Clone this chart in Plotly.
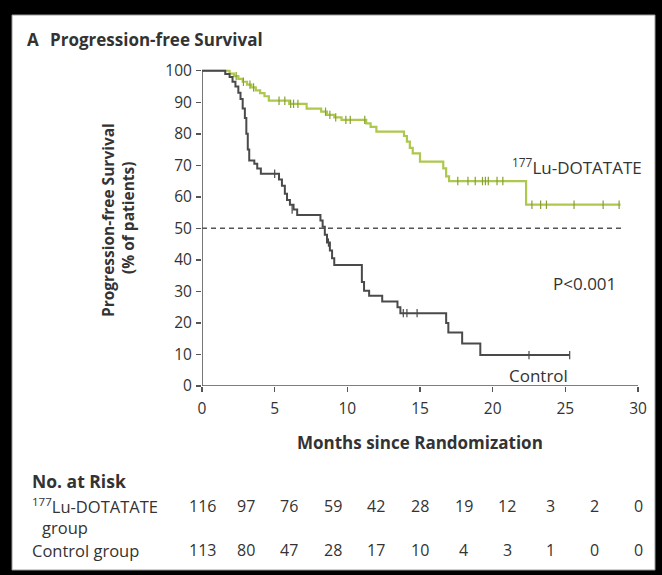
import plotly.graph_objects as go

W, H = 662, 575
L, R, T, B = 202, 24, 66, 189
PW = W - L - R
PH = H - T - B


def px(xp):
    return (xp - L) / PW


def py(yp):
    return (H - B - yp) / PH


# ---------------- data ----------------
ctrl_t = [0, 1.6, 1.9, 2.1, 2.3, 2.5, 2.65, 2.8, 2.95, 3.05, 3.15, 3.25, 3.6, 3.8, 4.05,
          5.3, 5.5, 5.7, 5.85, 6.05, 6.3, 6.55, 8.15, 8.3, 8.45, 8.6, 8.8, 8.95, 9.1,
          11.0, 11.15, 11.5, 12.4, 13.45, 13.65, 16.8, 16.95, 17.9, 19.15, 25.3]
ctrl_s = [100, 99, 98, 96.5, 95, 93, 91, 88, 85, 80, 75, 71.5, 70.5, 69, 67.3,
          65.5, 63.5, 61, 59, 57.5, 56, 54.2, 52.5, 50.5, 48, 45.5, 43, 40.5, 38.4,
          33, 30.2, 28.6, 26.8, 25, 23.1, 20, 17.0, 13.5, 9.8, 9.8]

lu_t = [0, 1.9, 2.2, 2.5, 2.8, 3.1, 3.4, 3.7, 4.0, 4.3, 4.6, 6.0, 7.2, 8.2, 8.6, 9.1, 9.6,
        11.3, 11.6, 12.0, 13.9, 14.1, 14.3, 14.5, 15.0, 16.6, 16.8, 17.0, 22.3, 28.8]
lu_s = [100, 99.1, 98.3, 97.4, 96.5, 95.6, 94.7, 93.8, 92.9, 91.9, 90.5, 89.5, 88.0, 87.0,
        86.0, 85.2, 84.4, 83.3, 82.2, 80.7, 79.3, 77.5, 75.5, 73.8, 71.2, 69.0, 66.5, 65.0,
        57.5, 57.5]

ctrl_cens_t = [5.0, 6.2, 8.7, 13.85, 14.1, 14.8, 22.5, 25.3]
ctrl_cens_s = [67.3, 56, 45.5, 23.1, 23.1, 23.1, 9.8, 9.8]

lu_cens_t = [2.35, 2.85, 3.3, 3.55, 5.3, 5.7, 6.1, 6.3, 6.6, 8.5, 8.8, 9.2, 9.9, 10.2, 11.2,
             17.6, 18.3, 18.8, 19.3, 19.5, 19.7, 20.3, 20.7, 22.7, 23.3, 23.7, 25.6, 27.6, 28.7]
lu_cens_s = [98.3, 96.5, 95.6, 94.7, 90.5, 90.5, 89.5, 89.5, 89.5, 87.0, 86.0, 85.2, 84.4, 84.4, 84.4,
             65, 65, 65, 65, 65, 65, 65, 65, 57.5, 57.5, 57.5, 57.5, 57.5, 57.5]

x_ticks = [0, 5, 10, 15, 20, 25, 30]
y_ticks = [0, 10, 20, 30, 40, 50, 60, 70, 80, 90, 100]

risk_times = [0, 3, 6, 9, 12, 15, 18, 21, 24, 27, 30]
risk_lu = [116, 97, 76, 59, 42, 28, 19, 12, 3, 2, 0]
risk_ctrl = [113, 80, 47, 28, 17, 10, 4, 3, 1, 0, 0]

# ---------------- styles ----------------
FONT = "Open Sans"
TXT = "#333333"
AX = "#555555"
GREEN = "#adc84c"
GRAY = "#4a4a4a"

fig = go.Figure()

fig.add_trace(go.Scatter(x=lu_t, y=lu_s, mode="lines", line=dict(shape="hv", color=GREEN, width=2.2),
                         hoverinfo="skip", showlegend=False))
fig.add_trace(go.Scatter(x=ctrl_t, y=ctrl_s, mode="lines", line=dict(shape="hv", color=GRAY, width=2),
                         hoverinfo="skip", showlegend=False))
fig.add_trace(go.Scatter(x=lu_cens_t, y=lu_cens_s, mode="markers",
                         marker=dict(symbol="line-ns", size=6, line=dict(color="#86a033", width=1.2)),
                         hoverinfo="skip", showlegend=False))
fig.add_trace(go.Scatter(x=ctrl_cens_t, y=ctrl_cens_s, mode="markers",
                         marker=dict(symbol="line-ns", size=6, line=dict(color=GRAY, width=1.2)),
                         hoverinfo="skip", showlegend=False))

shapes = [
    dict(type="rect", xref="paper", yref="paper", x0=px(12), x1=px(655), y0=py(570), y1=py(15),
         fillcolor="white", line=dict(color="#9a9a9a", width=1), layer="below"),
    dict(type="line", xref="x", yref="y", x0=0, x1=30, y0=0, y1=0, line=dict(color=AX, width=1.6)),
    dict(type="line", xref="x", yref="y", x0=0, x1=0, y0=0, y1=100, line=dict(color=AX, width=1.6)),
    dict(type="line", xref="x", yref="y", x0=0, x1=29, y0=50, y1=50,
         line=dict(color=AX, width=1.5, dash="5px,4px")),
]

ann = []


def add_text(text, x, y, size=14, bold=False, xanchor="left", yanchor="middle", xref="paper",
             angle=0, color=TXT):
    ann.append(dict(text=("<b>%s</b>" % text) if bold else text, x=x, y=y, xref=xref, yref="paper",
                    xanchor=xanchor, yanchor=yanchor, showarrow=False, textangle=angle,
                    font=dict(family=FONT, size=size, color=color)))


add_text("A", px(25), py(40), size=17, bold=True)
add_text("Progression-free Survival", px(48), py(40), size=17, bold=True)
add_text("Progression-free Survival", px(108), py(220), size=15.5, bold=True, xanchor="center", angle=-90)
add_text("(% of patients)", px(128), py(218), size=15.5, bold=True, xanchor="center", angle=-90)
add_text("Months since Randomization", px(420), py(442), size=17, bold=True, xanchor="center")
add_text("<sup>177</sup>Lu-DOTATATE", px(510), py(166), size=17)
add_text("P<0.001", px(551), py(283), size=17)
add_text("Control", px(507), py(375), size=17)

add_text("No. at Risk", px(30), py(481), size=17.5, bold=True)
add_text("<sup>177</sup>Lu-DOTATATE", px(30), py(506), size=16.5)
add_text("group", px(40), py(527), size=16.5)
add_text("Control group", px(30), py(550), size=16.5)
for t, n in zip(risk_times, risk_lu):
    add_text(str(n), t, py(506), size=16, xanchor="center", xref="x")
for t, n in zip(risk_times, risk_ctrl):
    add_text(str(n), t, py(550), size=16, xanchor="center", xref="x")

fig.update_layout(
    width=W, height=H,
    margin=dict(l=L, r=R, t=T, b=B, autoexpand=False),
    paper_bgcolor="black", plot_bgcolor="white",
    shapes=shapes, annotations=ann,
    font=dict(family=FONT, color=TXT),
    xaxis=dict(range=[0, 30], tickvals=x_ticks, ticks="outside", ticklen=5, tickwidth=1.5,
               tickcolor=AX, showgrid=False, zeroline=False, showline=False,
               tickfont=dict(family=FONT, size=15.5, color=TXT), ticklabelstandoff=3, fixedrange=True),
    yaxis=dict(range=[0, 101.5], tickvals=y_ticks, ticks="outside", ticklen=5, tickwidth=1.5,
               tickcolor=AX, showgrid=False, zeroline=False, showline=False,
               tickfont=dict(family=FONT, size=15.5, color=TXT), ticklabelstandoff=1, fixedrange=True),
)

fig.write_html(
    "out.html",
    config={"displayModeBar": False, "staticPlot": True},
    post_script="document.body.style.margin='0';document.body.style.background='black';"
                "document.documentElement.style.overflow='hidden';",
)
